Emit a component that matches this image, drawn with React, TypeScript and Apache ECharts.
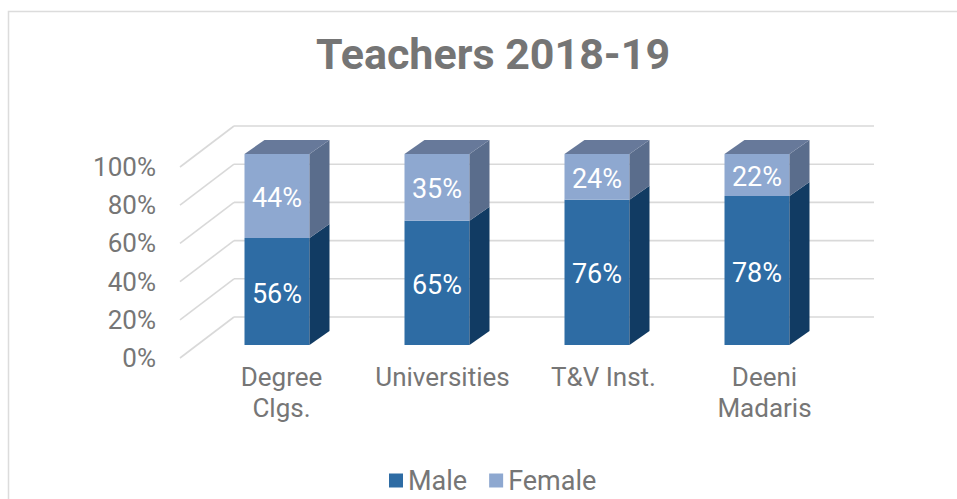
import React, { useEffect, useRef } from "react";
import * as echarts from "echarts";

const categories = ["Degree\nClgs.", "Universities", "T&V Inst.", "Deeni\nMadaris"];
const maleValues = [56, 65, 76, 78];
const femaleValues = [44, 35, 24, 22];
const yTicks = [0, 20, 40, 60, 80, 100];
const seriesNames = ["Male", "Female"];
const titleText = "Teachers 2018-19";

const TEXT = "#767676";
const GRID = "#d9d9d9";
const MALE = { front: "#2e6ca4", side: "#113b63", top: "#1d4a78" };
const FEMALE = { front: "#8ea8d0", side: "#5a6d8c", top: "#67799a" };

// 3D geometry (pixel offsets)
const WALL_DX = 54;
const WALL_DY = -41;
const BAR_SHIFT_X = 17;
const BAR_SHIFT_Y = -13;
const BAR_DX = 20;
const BAR_DY = -14;
const BAR_W = 65;

function makeBarRender(colors: any, showTop: boolean) {
  return (params: any, api: any) => {
    const ci = api.value(0);
    const v0 = api.value(1);
    const v1 = api.value(2);
    const p0 = api.coord([ci, v0]);
    const p1 = api.coord([ci, v1]);
    const cx = p0[0] + BAR_SHIFT_X;
    const yb = p0[1] + BAR_SHIFT_Y;
    const yt = p1[1] + BAR_SHIFT_Y;
    const l = cx - BAR_W / 2;
    const r = cx + BAR_W / 2;
    const children: any[] = [
      {
        type: "polygon",
        shape: { points: [[l, yt], [r, yt], [r, yb], [l, yb]] },
        style: { fill: colors.front },
      },
      {
        type: "polygon",
        shape: { points: [[r, yt], [r + BAR_DX, yt + BAR_DY], [r + BAR_DX, yb + BAR_DY], [r, yb]] },
        style: { fill: colors.side },
      },
    ];
    if (showTop) {
      children.push({
        type: "polygon",
        shape: { points: [[l, yt], [l + BAR_DX, yt + BAR_DY], [r + BAR_DX, yt + BAR_DY], [r, yt]] },
        style: { fill: colors.top },
      });
    }
    children.push({
      type: "text",
      x: cx,
      y: (yt + yb) / 2 + 2,
      style: {
        text: Math.round(v1 - v0) + "%",
        fill: "#ffffff",
        fontSize: 27,
        fontFamily: "Roboto",
        align: "center",
        verticalAlign: "middle",
      },
    });
    return { type: "group", children };
  };
}

function gridRender(params: any, api: any) {
  const v = api.value(1);
  const cs = params.coordSys;
  const y = api.coord([0, v])[1];
  const x0 = cs.x;
  const style = { stroke: GRID, lineWidth: 1.6 };
  return {
    type: "group",
    children: [
      { type: "line", shape: { x1: x0, y1: y, x2: x0 + WALL_DX, y2: y + WALL_DY }, style },
      {
        type: "line",
        shape: { x1: x0 + WALL_DX, y1: y + WALL_DY, x2: x0 + WALL_DX + cs.width, y2: y + WALL_DY },
        style,
      },
    ],
  };
}

export default function App() {
  const ref = useRef<HTMLDivElement>(null);
  useEffect(() => {
    if (!ref.current) return;
    const chart = echarts.init(ref.current, undefined, { renderer: "svg" });
    const maleData = categories.map((_, i) => [i, 0, maleValues[i]]);
    const femaleData = categories.map((_, i) => [i, maleValues[i], maleValues[i] + femaleValues[i]]);
    chart.setOption({
      animation: false,
      backgroundColor: "#ffffff",
      textStyle: { fontFamily: "Roboto" },
      title: {
        text: titleText,
        left: 311,
        top: 27,
        textStyle: { fontFamily: "Roboto", fontWeight: "bold", fontSize: 43, color: "#757575" },
      },
      legend: {
        data: seriesNames,
        left: 384,
        top: 462,
        icon: "rect",
        itemWidth: 14,
        itemHeight: 14,
        itemGap: 22,
        textStyle: { fontSize: 27, color: TEXT, fontFamily: "Roboto" },
      },
      graphic: [
        {
          type: "rect",
          shape: { x: 8.5, y: 11.5, width: 1200, height: 1200 },
          style: { fill: "none", stroke: "#dcdcdc", lineWidth: 1.5 },
          silent: true,
        },
      ],
      grid: [
        { left: 180, top: 167, width: 640, height: 191 },
        { left: 201, top: 167, width: 644, height: 191 },
      ],
      xAxis: [
        {
          type: "category",
          gridIndex: 0,
          data: categories,
          axisLine: { show: false },
          axisTick: { show: false },
          axisLabel: { show: false },
        },
        {
          type: "category",
          gridIndex: 1,
          data: categories,
          axisLine: { show: false },
          axisTick: { show: false },
          axisLabel: {
            interval: 0,
            margin: 3,
            fontSize: 26,
            lineHeight: 31,
            color: TEXT,
            fontFamily: "Roboto",
          },
        },
      ],
      yAxis: [
        {
          type: "value",
          gridIndex: 0,
          min: 0,
          max: 100,
          interval: 20,
          axisLine: { show: false },
          axisTick: { show: false },
          splitLine: { show: false },
          axisLabel: { formatter: "{value}%", margin: 24, fontSize: 26, color: TEXT, fontFamily: "Roboto" },
        },
        { type: "value", gridIndex: 1, min: 0, max: 100, show: false },
      ],
      series: [
        {
          type: "custom",
          name: "gridlines",
          xAxisIndex: 0,
          yAxisIndex: 0,
          renderItem: gridRender,
          data: yTicks.map((t) => [0, t]),
          silent: true,
          z: 1,
        },
        {
          type: "custom",
          name: "Male",
          xAxisIndex: 0,
          yAxisIndex: 0,
          itemStyle: { color: MALE.front },
          renderItem: makeBarRender(MALE, false),
          data: maleData,
          z: 2,
        },
        {
          type: "custom",
          name: "Female",
          xAxisIndex: 0,
          yAxisIndex: 0,
          itemStyle: { color: FEMALE.front },
          renderItem: makeBarRender(FEMALE, true),
          data: femaleData,
          z: 2,
        },
      ],
    });
    return () => chart.dispose();
  }, []);
  return <div ref={ref} style={{ position: "fixed", left: 0, top: 0, width: 957, height: 499 }} />;
}
